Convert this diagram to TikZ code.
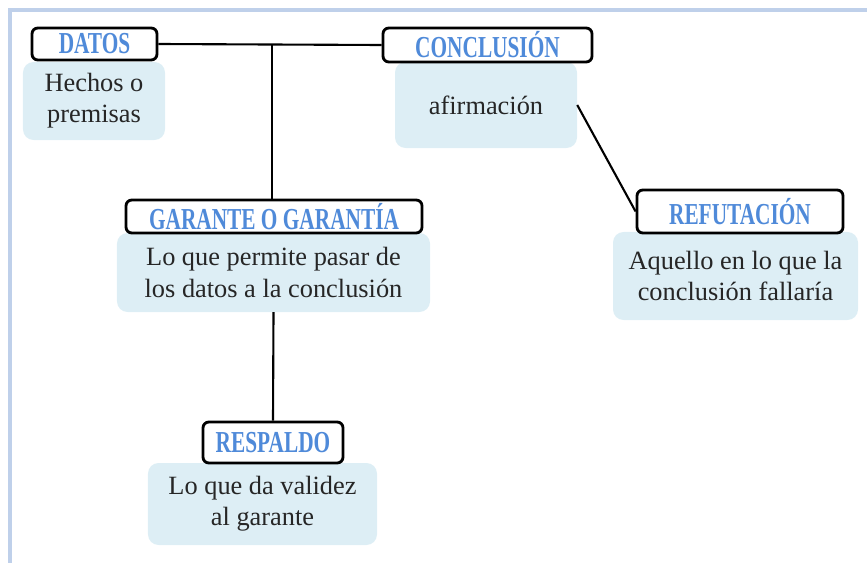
\documentclass[tikz,border=0pt]{standalone}
\usepackage{fontspec}
\setmainfont{Liberation Serif}
\newfontfamily\headfont[FakeStretch=0.7]{Liberation Serif}
\usetikzlibrary{positioning}

\definecolor{headblue}{HTML}{4F8AD9}
\definecolor{bodyfill}{HTML}{DDEEF5}
\definecolor{framecol}{HTML}{BFD0EA}

\tikzset{
  head/.style={draw=black, line width=2.4pt, rounded corners=5pt, fill=white,
    text=headblue, font=\headfont\fontsize{26}{28}\selectfont\bfseries,
    inner sep=0pt},
  body/.style={fill=bodyfill, rounded corners=9pt, align=center,
    font=\fontsize{22.5}{26.5}\selectfont, text=black!85, inner sep=0pt},
  link/.style={line width=1.8pt}
}

\begin{document}
\begin{tikzpicture}[x=0.03cm, y=-0.03cm]
  \useasboundingbox (0,0) rectangle (867,563);

  % Frame around the diagram
  \draw[framecol, line width=3pt] (10,563) -- (10,10) -- (867,10);

  % Description boxes
  \node[body, minimum width=4.26cm, minimum height=2.34cm] (hechos) at (94,101) {Hechos o\\premisas};
  \node[body, minimum width=5.46cm, minimum height=2.58cm] (afirm) at (486,105) {afirmación};
  \node[body, minimum width=9.39cm, minimum height=2.37cm] (permite) at (273.5,272.5) {Lo que permite pasar de\\los datos a la conclusión};
  \node[body, minimum width=7.35cm, minimum height=2.64cm] (aquello) at (735.5,276) {Aquello en lo que la\\conclusión fallaría};
  \node[body, minimum width=6.87cm, minimum height=2.46cm] (validez) at (262.5,504) {Lo que da validez\\al garante};

  % Title boxes
  \node[head, minimum width=3.75cm, minimum height=0.96cm] (datos) at (94.5,44) {DATOS};
  \node[head, minimum width=6.27cm, minimum height=1.02cm] (concl) at (487.5,45) {CONCLUSIÓN};
  \node[head, minimum width=8.88cm, minimum height=0.99cm] (garante) at (274,216.5) {GARANTE O GARANTÍA};
  \node[head, minimum width=6.18cm, minimum height=1.29cm] (refut) at (740,211.5) {REFUTACIÓN};
  \node[head, minimum width=4.20cm, minimum height=1.23cm] (respaldo) at (273,442.5) {RESPALDO};

  % Connectors
  \draw[link] (datos.east) -- coordinate[pos=0.51] (jn) (concl.west);
  \draw[link] (jn) -- (jn |- garante.north);
  \draw[link] (permite.south) -- (respaldo.north);
  \draw[link] (afirm.east) -- (refut.west);
\end{tikzpicture}
\end{document}
